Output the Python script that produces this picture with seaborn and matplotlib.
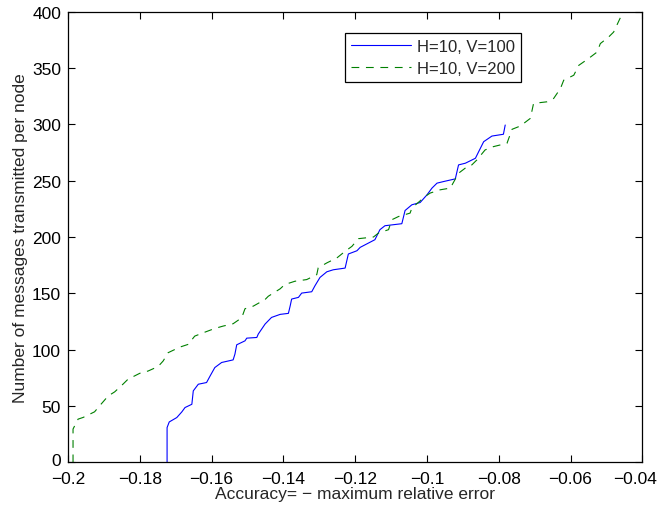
import matplotlib
matplotlib.use("Agg")
import matplotlib.pyplot as plt
import matplotlib.transforms as mtransforms
import seaborn as sns
import pandas as pd

# ---- data ----
blue_x = [-0.1724, -0.1724, -0.1718, -0.1697, -0.1683, -0.1674, -0.1655, -0.1651, -0.1637,
          -0.1614, -0.1604, -0.1591, -0.1572, -0.1540, -0.1535, -0.1530, -0.1507, -0.1502,
          -0.1474, -0.1470, -0.1451, -0.1433, -0.1409, -0.1386, -0.1381, -0.1377, -0.1358,
          -0.1349, -0.1321, -0.1312, -0.1298, -0.1279, -0.1261, -0.1228, -0.1219, -0.1195,
          -0.1186, -0.1145, -0.1131, -0.1117, -0.1070, -0.1061, -0.1042, -0.1019, -0.1000,
          -0.0986, -0.0972, -0.0954, -0.0921, -0.0912, -0.0893, -0.0865, -0.0856, -0.0842,
          -0.0819, -0.0787, -0.0782]
blue_y = [0, 30.8, 35.8, 39.7, 44.7, 48.6, 51.5, 63.4, 69.3,
          70.8, 76.7, 84.1, 88.6, 90.9, 96.0, 104.3, 107.8, 110.2,
          110.8, 113.8, 122.7, 128.6, 131.3, 132.2, 138.9, 144.9, 146.4,
          150.2, 151.4, 156.7, 164.1, 169.1, 170.9, 172.4, 184.9, 187.8,
          190.8, 197.6, 206.5, 210.0, 211.8, 223.5, 228.6, 230.6, 237.4,
          243.4, 247.8, 249.2, 251.6, 264.0, 265.5, 269.9, 275.7, 284.6,
          289.6, 291.2, 299.4]

green_x = [-0.1986, -0.1986, -0.1972, -0.1958, -0.1926, -0.1912, -0.1888, -0.1870, -0.1847,
           -0.1833, -0.1800, -0.1777, -0.1749, -0.1735, -0.1721, -0.1688, -0.1665, -0.1647,
           -0.1623, -0.1591, -0.1568, -0.1540, -0.1516, -0.1507, -0.1484, -0.1451, -0.1442,
           -0.1409, -0.1396, -0.1368, -0.1335, -0.1307, -0.1303, -0.1279, -0.1251, -0.1228,
           -0.1209, -0.1191, -0.1149, -0.1135, -0.1107, -0.1098, -0.1079, -0.1047, -0.1042,
           -0.1005, -0.0991, -0.0963, -0.0935, -0.0912, -0.0884, -0.0875, -0.0861, -0.0838,
           -0.0815, -0.0777, -0.0763, -0.0740, -0.0712, -0.0703, -0.0666, -0.0647, -0.0628,
           -0.0619, -0.0591, -0.0577, -0.0550, -0.0526, -0.0517, -0.0494, -0.0480, -0.0456,
           -0.0445]
green_y = [0, 29.5, 38.3, 39.8, 44.8, 50.1, 58.9, 62.5, 69.3,
           73.7, 79.0, 81.0, 85.0, 89.9, 97.3, 102.3, 104.7, 112.0,
           115.0, 118.8, 120.9, 123.0, 128.3, 136.3, 138.6, 144.5, 147.4,
           154.0, 157.8, 160.7, 162.2, 166.6, 172.6, 177.0, 181.4, 187.3,
           191.7, 198.5, 200.0, 203.5, 206.5, 215.3, 218.2, 221.2, 225.7,
           236.0, 239.0, 241.9, 243.4, 256.6, 263.4, 264.0, 268.4, 277.3,
           280.2, 283.2, 295.6, 298.5, 305.3, 318.6, 320.0, 323.0, 331.9,
           339.2, 343.6, 352.4, 358.4, 364.2, 371.7, 377.5, 381.9, 398.2,
           410.0]

series_names = ["H=10, V=100", "H=10, V=200"]
x_ticks = [-0.2, -0.18, -0.16, -0.14, -0.12, -0.1, -0.08, -0.06, -0.04]
x_tick_labels = ["\u22120.2", "\u22120.18", "\u22120.16", "\u22120.14", "\u22120.12",
                 "\u22120.1", "\u22120.08", "\u22120.06", "\u22120.04"]
y_ticks = [0, 50, 100, 150, 200, 250, 300, 350, 400]
x_label = "Accuracy= \u2212 maximum relative error"
y_label = "Number of messages transmitted per node"

df = pd.concat([
    pd.DataFrame({"x": blue_x, "y": blue_y, "series": series_names[0]}),
    pd.DataFrame({"x": green_x, "y": green_y, "series": series_names[1]}),
], ignore_index=True)

sns.set_style("ticks")
plt.rcParams["font.family"] = ["Liberation Sans", "DejaVu Sans"]

fig = plt.figure(figsize=(6.59, 5.10), dpi=100)
ax = fig.add_axes([0.1032, 0.0916, 0.8715, 0.8835])

palette = {series_names[0]: "#0000ff", series_names[1]: "#008000"}
sns.lineplot(data=df, x="x", y="y", hue="series", style="series",
             palette=palette, dashes={series_names[0]: "", series_names[1]: (7, 6)},
             sort=False, estimator=None, linewidth=0.8, ax=ax)

FS = 12.5
ax.set_xlim(-0.2, -0.04)
ax.set_ylim(0, 400)
ax.set_xticks(x_ticks)
ax.set_xticklabels(x_tick_labels)
ax.set_yticks(y_ticks)
ax.tick_params(direction="in", top=True, right=True, length=5, width=0.8,
               labelsize=FS, colors="black")
ax.tick_params(axis="x", pad=6)
ax.tick_params(axis="y", pad=5)
# keep the last x tick label inside the figure, as in the reference
last = ax.get_xticklabels()[-1]
last.set_transform(last.get_transform() +
                   mtransforms.ScaledTranslation(-7 / 100, 0, fig.dpi_scale_trans))
# lift the "0" y tick label slightly so it clears the first x tick label
zero = ax.get_yticklabels()[0]
zero.set_transform(zero.get_transform() +
                   mtransforms.ScaledTranslation(0, 3 / 100, fig.dpi_scale_trans))
for s in ax.spines.values():
    s.set_visible(True)
    s.set_color("black")
    s.set_linewidth(0.9)
ax.set_xlabel(x_label, fontsize=FS, labelpad=0)
ax.set_ylabel(y_label, fontsize=FS, labelpad=3)

leg = ax.legend(loc="upper left", bbox_to_anchor=(0.482, 0.953), fontsize=12,
                frameon=True, fancybox=False, framealpha=1, edgecolor="black",
                handlelength=3.6, borderpad=0.38, labelspacing=0.4, handletextpad=0.35,
                borderaxespad=0)
leg.get_frame().set_linewidth(0.9)

fig.savefig("out.png", dpi=100)
